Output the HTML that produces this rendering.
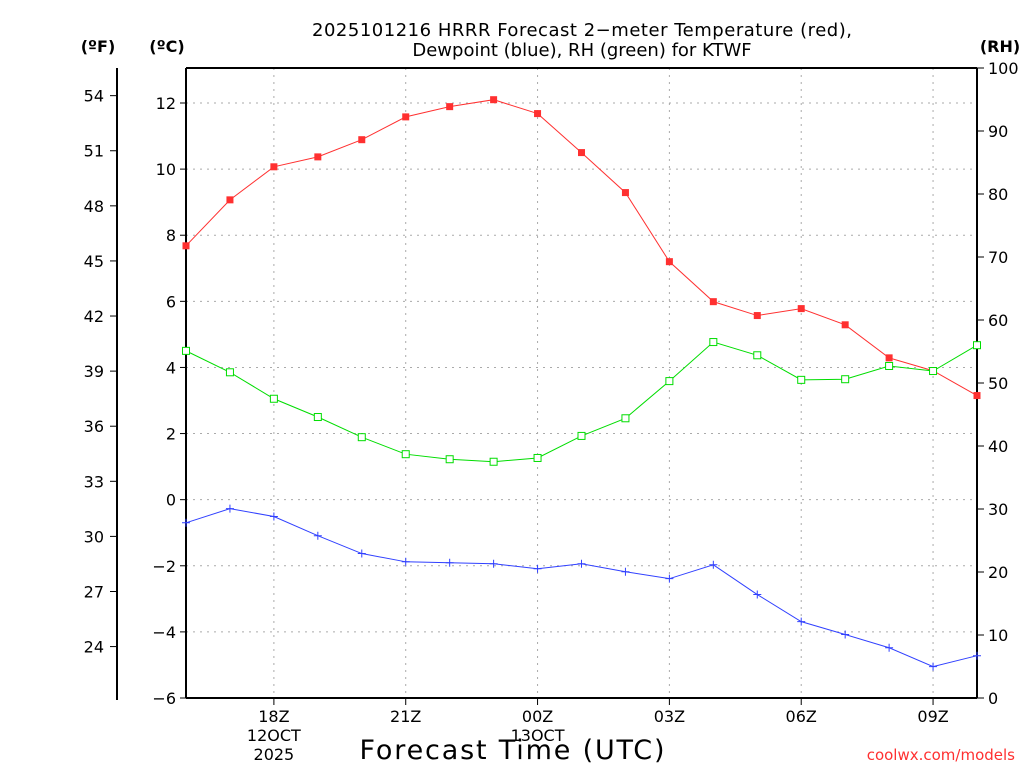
<!DOCTYPE html>
<html><head><meta charset="utf-8"><style>
body{margin:0;background:#fff;}
svg text{font-family:"DejaVu Sans","Liberation Sans",sans-serif;fill:#000;}
</style></head><body>
<svg id="chart" width="1024" height="768" xmlns="http://www.w3.org/2000/svg">
<g id="grid"></g>
<g id="axes"></g>
<g id="series"></g>
<text x="582" y="36" font-size="18" text-anchor="middle" textLength="540">2025101216 HRRR Forecast 2−meter Temperature (red),</text>
<text x="582" y="56" font-size="18" text-anchor="middle">Dewpoint (blue), RH (green) for KTWF</text>
<text x="98" y="52" font-size="16" font-weight="bold" text-anchor="middle">(ºF)</text>
<text x="167" y="52" font-size="16" font-weight="bold" text-anchor="middle">(ºC)</text>
<text x="1000" y="52" font-size="16" font-weight="bold" text-anchor="middle">(RH)</text>
<text x="512" y="759" font-size="27" text-anchor="middle" textLength="305">Forecast Time (UTC)</text>
<text x="1015" y="760" font-size="15" text-anchor="end" style="fill:#ff3030">coolwx.com/models</text>
</svg>
<script>
const hours=[16,17,18,19,20,21,22,23,24,25,26,27,28,29,30,31,32,33,34];
const tempC=[7.68,9.07,10.07,10.37,10.89,11.58,11.89,12.1,11.68,10.5,9.29,7.2,5.99,5.57,5.78,5.29,4.29,3.9,3.15];
const dewC=[-0.70,-0.27,-0.51,-1.09,-1.63,-1.88,-1.91,-1.94,-2.09,-1.94,-2.18,-2.39,-1.97,-2.87,-3.69,-4.08,-4.48,-5.05,-4.72];
const rh=[55.1,51.7,47.5,44.6,41.4,38.7,37.9,37.5,38.1,41.6,44.4,50.3,56.5,54.4,50.5,50.6,52.7,51.9,56.0];
const cTicks=[-6,-4,-2,0,2,4,6,8,10,12];
const fTicks=[24,27,30,33,36,39,42,45,48,51,54];
const rhTicks=[0,10,20,30,40,50,60,70,80,90,100];
const xTickHours=[18,21,24,27,30,33];
const xTickLabels=["18Z","21Z","00Z","03Z","06Z","09Z"];

const L=186,R=977,T=68,B=698;
const x=h=>L+(h-16)*(R-L)/18;
const yC=c=>B-(c+6)*(B-103)/18;
const yF=f=>yC((f-32)*5/9);
const yRH=r=>B-r*(B-T)/100;
const NS="http://www.w3.org/2000/svg";
function mk(p,tag,at,txt){const e=document.createElementNS(NS,tag);for(const k in at)e.setAttribute(k,at[k]);if(txt!==undefined)e.textContent=txt;p.appendChild(e);return e;}
const grid=document.getElementById('grid'),axes=document.getElementById('axes'),ser=document.getElementById('series');

cTicks.forEach(c=>{const y=yC(c);
 if(c>-6){const g=mk(grid,'line',{x1:L,x2:R,y1:y,y2:y,stroke:'#aaa','stroke-dasharray':'2,5'});
 
 }
 mk(axes,'line',{x1:L-6,x2:L,y1:y,y2:y,stroke:'#000'});
 const t=mk(axes,'text',{x:L-10,y:y+6,'font-size':16,'text-anchor':'end'},c<0?'−'+(-c):c);
 
 
});
fTicks.forEach(f=>{const y=yF(f);
 mk(axes,'line',{x1:110,x2:117,y1:y,y2:y,stroke:'#000'});
 const t=mk(axes,'text',{x:104,y:y+6,'font-size':16,'text-anchor':'end'},f);
 
 
});
rhTicks.forEach(r=>{const y=yRH(r);
 mk(axes,'line',{x1:R,x2:R+7,y1:y,y2:y,stroke:'#000'});
 const t=mk(axes,'text',{x:988,y:y+6,'font-size':16},r);
 
 
});
xTickHours.forEach((h,i)=>{const xx=x(h);
 const g=mk(grid,'line',{x1:xx,x2:xx,y1:T,y2:B,stroke:'#aaa','stroke-dasharray':'2,5'});
 
 
 mk(axes,'line',{x1:xx,x2:xx,y1:B,y2:B+7,stroke:'#000'});
 const t=mk(axes,'text',{x:xx,y:722,'font-size':16,'text-anchor':'middle'},xTickLabels[i]);
 
 
});
[[18,"12OCT"],[18,"2025",1],[24,"13OCT"]].forEach(d=>{
 const t=mk(axes,'text',{x:x(d[0]),y:d[2]?760:741,'font-size':16,'text-anchor':'middle'},d[1]);
 
 
});
mk(axes,'line',{x1:L,x2:L,y1:T,y2:B,stroke:'#000','stroke-width':2});
mk(axes,'line',{x1:R,x2:R,y1:T,y2:B,stroke:'#000','stroke-width':2});
mk(axes,'line',{x1:L,x2:R,y1:B,y2:B,stroke:'#000','stroke-width':2});
mk(axes,'line',{x1:L,x2:R,y1:T,y2:T,stroke:'#000','stroke-width':2});
mk(axes,'line',{x1:117,x2:117,y1:T,y2:700,stroke:'#000','stroke-width':2});

function line(vals,fy,col,name){
 const pl=mk(ser,'polyline',{points:vals.map((v,i)=>x(hours[i])+','+fy(v)).join(' '),fill:'none',stroke:col,'stroke-width':1});
 
 
}
line(tempC,yC,'#ff3030','temperature');
line(dewC,yC,'#3040ff','dewpoint');
line(rh,yRH,'#00dd00','rh');
tempC.forEach((v,i)=>{const m=mk(ser,'rect',{x:x(hours[i])-3.5,y:yC(v)-3.5,width:7,height:7,fill:'#ff3030'});
 
 });
rh.forEach((v,i)=>{const m=mk(ser,'rect',{x:x(hours[i])-3.5,y:yRH(v)-3.5,width:7,height:7,fill:'#fff',stroke:'#00dd00','stroke-width':1});
 
 });
dewC.forEach((v,i)=>{const cx=x(hours[i]),cy=yC(v);
 const m=mk(ser,'path',{d:`M${cx-4},${cy}H${cx+4}M${cx},${cy-4}V${cy+4}`,stroke:'#3040ff','stroke-width':1});
 
 });
</script>
</body></html>
